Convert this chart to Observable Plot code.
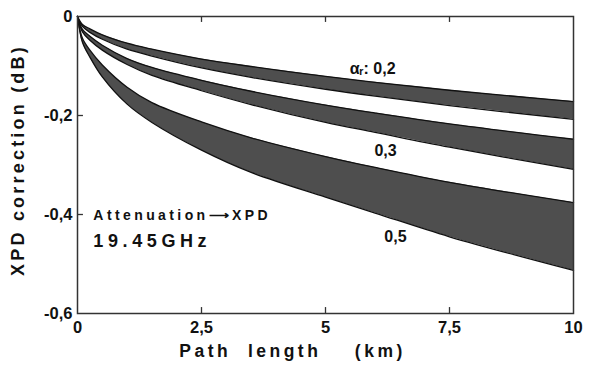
<!DOCTYPE html>
<html>
<head>
<meta charset="utf-8">
<script src="https://cdn.jsdelivr.net/npm/d3@7"></script>
<script src="https://cdn.jsdelivr.net/npm/@observablehq/plot@0.6"></script>
<style>
  html, body { margin: 0; padding: 0; background: #fff; }
  svg { display: block; }
</style>
</head>
<body>
<div id="chart"></div>
<script>
// Path length (km)
const pathLength = [0, 0.1, 0.25, 0.5, 1, 1.5, 2.5, 3.5, 5, 6, 7.5, 10];
// XPD correction (dB), band edges for each alpha_r
const upper02 = [0, -0.016, -0.025, -0.037, -0.054, -0.066, -0.086, -0.101, -0.121, -0.133, -0.149, -0.172];
const lower02 = [0, -0.020, -0.032, -0.046, -0.066, -0.080, -0.104, -0.123, -0.147, -0.161, -0.180, -0.208];
const upper03 = [0, -0.026, -0.040, -0.058, -0.085, -0.103, -0.129, -0.151, -0.179, -0.195, -0.217, -0.248];
const lower03 = [0, -0.031, -0.048, -0.068, -0.097, -0.119, -0.150, -0.178, -0.214, -0.234, -0.264, -0.309];
const upper05 = [0, -0.044, -0.068, -0.098, -0.143, -0.174, -0.213, -0.245, -0.283, -0.305, -0.335, -0.376];
const lower05 = [0, -0.052, -0.082, -0.122, -0.177, -0.214, -0.270, -0.315, -0.365, -0.397, -0.445, -0.513];

const xTicks = [0, 2.5, 5, 7.5, 10];
const yTicks = [0, -0.2, -0.4, -0.6];

const bandNames = ["0,2", "0,3", "0,5"];
const bandUpper = [upper02, upper03, upper05];
const bandLower = [lower02, lower03, lower05];

const labels = [
  {x: 5.95, y: -0.105, text: "αᵣ: 0,2"},
  {x: 6.21, y: -0.271, text: "0,3"},
  {x: 6.41, y: -0.446, text: "0,5"}
];
const notes = [
  {x: 0.32, y: -0.402, text: "Attenuation⟶XPD", size: 14},
  {x: 0.32, y: -0.455, text: "19.45GHz", size: 18}
];

const rows = [];
bandNames.forEach((name, i) => {
  pathLength.forEach((x, j) => rows.push({band: name, x, up: bandUpper[i][j], lo: bandLower[i][j]}));
});

const fmt = d => d === 0 ? "0" : String(d).replace(".", ",");

const svg = Plot.plot({
  width: 591,
  height: 365,
  marginLeft: 77,
  marginRight: 18,
  marginTop: 16,
  marginBottom: 52,
  style: {fontFamily: "'Liberation Sans', Arial, sans-serif", background: "#fff", color: "#111"},
  x: {domain: [0, 10]},
  y: {domain: [-0.6, 0]},
  marks: [
    Plot.areaY(rows, {x: "x", y1: "up", y2: "lo", z: "band", fill: "#4e4e4e", curve: "catmull-rom"}),
    Plot.line(rows, {x: "x", y: "up", z: "band", stroke: "#111", strokeWidth: 1.3, curve: "catmull-rom"}),
    Plot.line(rows, {x: "x", y: "lo", z: "band", stroke: "#111", strokeWidth: 1.3, curve: "catmull-rom"}),
    Plot.frame({stroke: "#333", strokeWidth: 1.5}),
    // inward ticks
    Plot.ruleX(xTicks.slice(1, -1), {y1: -0.6, y2: -0.588, stroke: "#333", strokeWidth: 1.3}),
    Plot.ruleX(xTicks.slice(1, -1), {y1: 0, y2: -0.012, stroke: "#333", strokeWidth: 1.3}),
    Plot.ruleY(yTicks.slice(1, -1), {x1: 0, x2: 0.12, stroke: "#333", strokeWidth: 1.3}),
    Plot.axisX({ticks: xTicks, tickFormat: fmt, tickSize: 0, tickPadding: 8, fontSize: 16.5, fontWeight: "bold", label: null}),
    Plot.axisY({ticks: yTicks, tickFormat: fmt, tickSize: 0, tickPadding: 5, fontSize: 16.5, fontWeight: "bold", label: null}),
    Plot.text(labels, {x: "x", y: "y", text: "text", fontSize: 16, fontWeight: "bold", fill: "#111"}),
    Plot.text(notes, {x: "x", y: "y", text: "text", fontSize: "size", fontWeight: "bold", textAnchor: "start", fill: "#111"}),
    Plot.text(["XPD correction (dB)"], {frameAnchor: "left", textAnchor: "middle", lineAnchor: "middle", rotate: -90, dx: -59, dy: -5, fontSize: 18, fontWeight: "bold", fill: "#111"}),
    Plot.text(["Path  length    (km)"], {frameAnchor: "bottom", textAnchor: "middle", lineAnchor: "middle", dx: -33, dy: 38, fontSize: 17.5, fontWeight: "bold", fill: "#111"})
  ]
});

d3.select(svg).selectAll("text").each(function() {
  const t = this.textContent;
  if (t === "XPD correction (dB)") d3.select(this).attr("letter-spacing", "3.2px").style("white-space", "pre");
  if (t === "Path  length    (km)") d3.select(this).attr("letter-spacing", "3.5px").style("white-space", "pre");
  if (t === "Attenuation⟶XPD") d3.select(this).attr("letter-spacing", "3.4px");
  if (t === "19.45GHz") d3.select(this).attr("letter-spacing", "4.6px");
});

document.getElementById("chart").appendChild(svg);
</script>
</body>
</html>
